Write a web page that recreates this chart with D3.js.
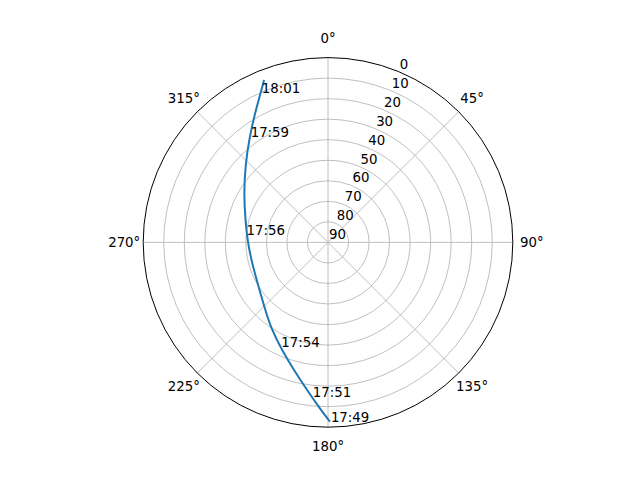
<!DOCTYPE html>
<html>
<head>
<meta charset="utf-8">
<script src="https://cdn.jsdelivr.net/npm/d3@7"></script>
<style>
  body { margin: 0; background: #fff; }
  text { font-family: "DejaVu Sans", sans-serif; font-size: 13.33px; fill: #000; }
</style>
</head>
<body>
<script>
// pass track: azimuth (deg, clockwise from N) and elevation (deg)
var trackAz = [179.4, 182.4, 188.1, 195.0, 203.2, 212.7, 222.9, 235.2, 253.3,
               270.5, 286.4, 299.4, 313.1, 323.4, 330.0, 335.8, 338.5];
var trackEl = [2.7, 8.3, 17.4, 25.7, 33.0, 39.3, 45.1, 49.4, 51.6,
               50.8, 48.0, 43.0, 34.8, 26.0, 18.4, 10.1, 5.0];

// time labels along the track
var timeLabels = ["17:49", "17:51", "17:54", "17:56", "17:59", "18:01"];
var timeAz = [179.4, 186.0, 204.6, 275.1, 323.4, 335.8];
var timeEl = [2.7, 14.4, 34.1, 49.7, 26.0, 10.1];

var rTicks = [0, 10, 20, 30, 40, 50, 60, 70, 80, 90];
var thetaTicks = [0, 45, 90, 135, 180, 225, 270, 315];

var W = 640, H = 480;
var cx = 328, cy = 242.4, R = 184.8;

var svg = d3.select("body").append("svg")
    .attr("width", W)
    .attr("height", H);

var g = svg.append("g").attr("transform", "translate(" + cx + "," + cy + ")");

// elevation 90 at centre, 0 at the rim
var r = d3.scaleLinear().domain([90, 0]).range([0, R]);
var rad = function(deg) { return deg * Math.PI / 180; };

// grid rings
g.selectAll("circle.ring")
    .data(rTicks.filter(function(d) { return d > 0 && d < 90; }))
    .enter().append("circle")
    .attr("class", "ring")
    .attr("r", function(d) { return r(d); })
    .attr("fill", "none")
    .attr("stroke", "#b0b0b0")
    .attr("stroke-width", 0.8);

// spokes
g.selectAll("line.spoke")
    .data(thetaTicks)
    .enter().append("line")
    .attr("x1", 0).attr("y1", 0)
    .attr("x2", function(d) { return R * Math.sin(rad(d)); })
    .attr("y2", function(d) { return -R * Math.cos(rad(d)); })
    .attr("stroke", "#b0b0b0")
    .attr("stroke-width", 0.8);

// outer spine
g.append("circle")
    .attr("r", R)
    .attr("fill", "none")
    .attr("stroke", "#000")
    .attr("stroke-width", 1);

// theta labels
g.selectAll("text.theta")
    .data(thetaTicks)
    .enter().append("text")
    .attr("x", function(d) { return (R + 19) * Math.sin(rad(d)); })
    .attr("y", function(d) { return -(R + 19) * Math.cos(rad(d)); })
    .attr("text-anchor", "middle")
    .attr("dominant-baseline", "central")
    .text(function(d) { return d + "\u00b0"; });

// radial labels at 22.5 deg
var la = rad(22.5);
g.selectAll("text.rlab")
    .data(rTicks)
    .enter().append("text")
    .attr("x", function(d) { return r(d) * Math.sin(la) + 1; })
    .attr("y", function(d) { return -r(d) * Math.cos(la) - 3; })
    .attr("text-anchor", "start")
    .text(function(d) { return d; });

// track
var track = trackAz.map(function(a, i) { return [rad(a), r(trackEl[i])]; });
var line = d3.lineRadial()
    .angle(function(d) { return d[0]; })
    .radius(function(d) { return d[1]; })
    .curve(d3.curveBasis);

g.append("path")
    .datum(track)
    .attr("d", line)
    .attr("fill", "none")
    .attr("stroke", "#1f77b4")
    .attr("stroke-width", 2);

// time annotations
g.selectAll("text.time")
    .data(timeLabels)
    .enter().append("text")
    .attr("x", function(d, i) { return r(timeEl[i]) * Math.sin(rad(timeAz[i])) + 1; })
    .attr("y", function(d, i) { return -r(timeEl[i]) * Math.cos(rad(timeAz[i])); })
    .attr("text-anchor", "start")
    .text(function(d) { return d; });
</script>
</body>
</html>
